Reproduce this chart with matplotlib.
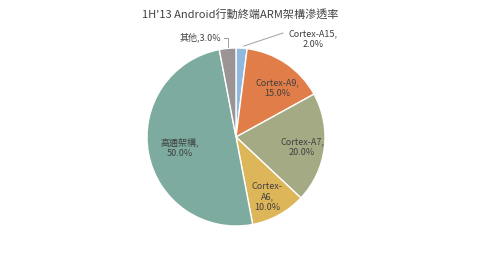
import matplotlib.pyplot as plt

plt.rcParams['font.family'] = ['Noto Sans CJK TC', 'DejaVu Sans']

# Data
labels = ['Cortex-A15', 'Cortex-A9', 'Cortex-A7', 'Cortex-A6', '高通架構', '其他']
shares = [2.0, 15.0, 20.0, 10.0, 50.0, 3.0]
colors = ['#8fb9de', '#e07d48', '#a4ab84', '#ddb65a', '#7eab9f', '#9a9494']
title = "1H'13 Android行動終端ARM架構滲透率"

fig = plt.figure(figsize=(4.8, 2.54), dpi=100)
ax = fig.add_axes([0, 0, 1, 1])
ax.set_xlim(0, 480)
ax.set_ylim(0, 254)
ax.axis('off')

# pie drawn in pixel-like coordinates (y up)
wedges, _ = ax.pie(shares, colors=colors, startangle=90, counterclock=False,
                   center=(236, 117), radius=89,
                   wedgeprops=dict(edgecolor='white', linewidth=1))
ax.set_xlim(0, 480)
ax.set_ylim(0, 254)
ax.set_aspect('equal')

txt = dict(fontsize=6.5, color='#404040', ha='center', va='center', linespacing=1.25)

def lab(i, lines):
    return '\n'.join(lines).format(shares[i])

# outside labels with leader lines
ax.text(313, 215, lab(0, [labels[0] + ',', '{:.1f}%']), **txt)
ax.plot([244, 283], [208, 221], color='#a0a0a0', lw=0.7)
ax.text(200, 217, labels[5] + ',{:.1f}%'.format(shares[5]), **txt)
ax.plot([224, 228, 228], [216, 216, 207], color='#a0a0a0', lw=0.7)

# inside labels
ax.text(277, 166, lab(1, [labels[1] + ',', '{:.1f}%']), **txt)
ax.text(302, 107, lab(2, [labels[2] + ',', '{:.1f}%']), **txt)
ax.text(267, 57, lab(3, ['Cortex-', 'A6,', '{:.1f}%']), **txt)
ax.text(180, 106, lab(4, [labels[4] + ',', '{:.1f}%']), **txt)

ax.text(240, 240, title, fontsize=8, color='#404040', ha='center', va='center')

fig.savefig('out.png', dpi=100)
